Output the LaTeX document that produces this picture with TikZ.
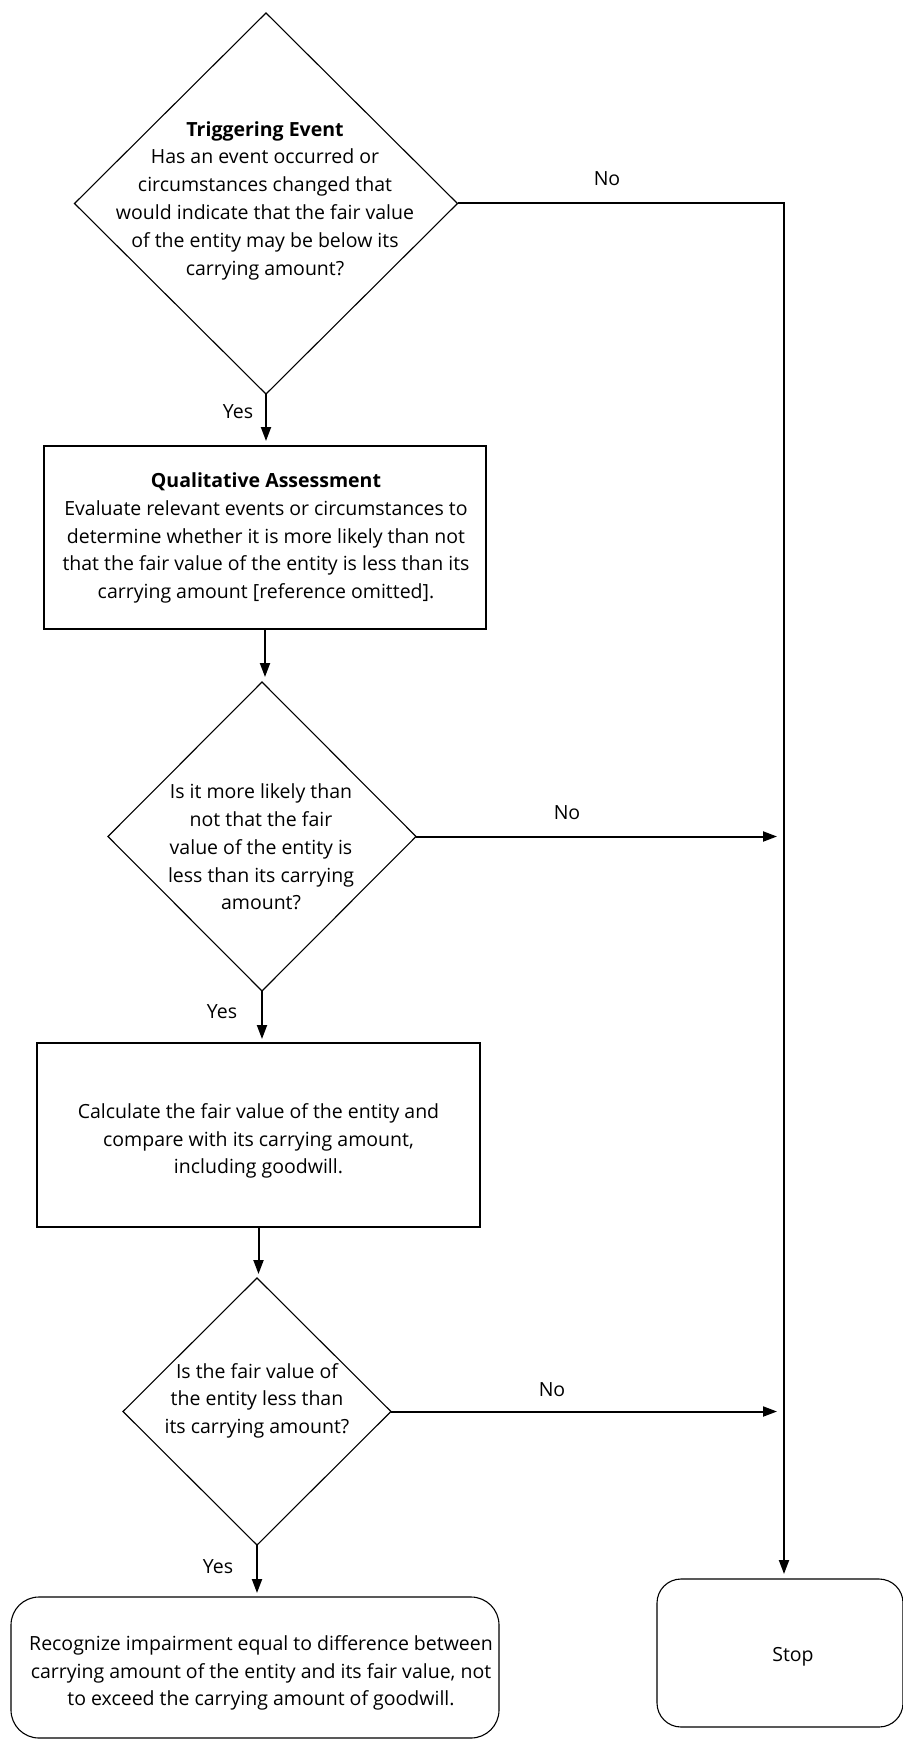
\documentclass[tikz,border=0pt]{standalone}
\usepackage{fontspec}
\setmainfont{Open Sans}
\usetikzlibrary{shapes.geometric,arrows.meta,calc}
\tikzset{
  dia/.style={draw, diamond, inner sep=0pt, outer sep=0pt, line width=1.1pt},
  boxx/.style={draw, rectangle, inner sep=0pt, outer sep=0pt, line width=1.1pt},
  rbox/.style={draw, rectangle, rounded corners=28pt, inner sep=0pt, outer sep=0pt, line width=1.1pt},
  txt/.style={align=center, inner sep=0pt, font=\fontsize{19.5}{27.8}\selectfont},
  lbl/.style={inner sep=0pt, font=\fontsize{19.5}{24}\selectfont},
  arr/.style={-{Triangle[width=10pt,length=14pt]}, line width=2pt}
}
\begin{document}
\begin{tikzpicture}[x=1pt,y=-1pt]
\useasboundingbox (0,0) rectangle (902,1739);
% shapes
\node[dia, minimum width=383pt, minimum height=381pt] (d1) at (266,203.5) {};
\node[boxx, minimum width=442pt, minimum height=183pt] (b1) at (265,537.5) {};
\node[dia, minimum width=308pt, minimum height=309pt] (d2) at (262,836.5) {};
\node[boxx, minimum width=443pt, minimum height=184pt] (b2) at (258.5,1135) {};
\node[dia, minimum width=268pt, minimum height=267pt] (d3) at (257,1411.5) {};
\node[rbox, minimum width=488pt, minimum height=141pt] (fin) at (255,1667.5) {};
\node[rbox, rounded corners=24pt, minimum width=246pt, minimum height=148pt] (stop) at (780,1653) {};
% texts
\node[txt] (t1) at (265,200.5) {\textbf{Triggering Event}\\Has an event occurred or\\circumstances changed that\\would indicate that the fair value\\of the entity may be below its\\carrying amount?};
\node[txt] (t2) at (266,538) {\textbf{Qualitative Assessment}\\Evaluate relevant events or circumstances to\\determine whether it is more likely than not\\that the fair value of the entity is less than its\\carrying amount [reference omitted].};
\node[txt] (t3) at (261,847) {Is it more likely than\\not that the fair\\value of the entity is\\less than its carrying\\amount?};
\node[txt] (t4) at (258.5,1141) {Calculate the fair value of the entity and\\compare with its carrying amount,\\including goodwill.};
\node[txt] (t5) at (257,1400.7) {Is the fair value of\\the entity less than\\its carrying amount?};
\node[txt] (t6) at (261,1673) {Recognize impairment equal to difference between\\carrying amount of the entity and its fair value, not\\to exceed the carrying amount of goodwill.};
\node[txt] (t7) at (793,1657) {Stop};
% connectors
\coordinate (vl) at (784,202);
\draw[arr, shorten >=5pt] (d1.south) -- (d1.south |- b1.north);
\draw[arr, shorten >=5pt] (b1.south) -- (b1.south |- d2.north);
\draw[arr, shorten >=4pt] (d2.south) -- (d2.south |- b2.north);
\draw[arr, shorten >=4pt] (b2.south) -- (b2.south |- d3.north);
\draw[arr, shorten >=4pt] (d3.south) -- (d3.south |- fin.north);
\draw[arr, shorten >=5pt] (d1.east) -- (d1.east -| vl) -- (vl |- stop.north);
\draw[arr, shorten >=7pt] (d2.east) -- (d2.east -| vl);
\draw[arr, shorten >=7pt] (d3.east) -- (d3.east -| vl);
% labels
\node[lbl] (y1) at (238,412) {Yes};
\node[lbl] (n1) at (607,179) {No};
\node[lbl] (n2) at (567,813) {No};
\node[lbl] (y2) at (222,1012) {Yes};
\node[lbl] (n3) at (552,1390) {No};
\node[lbl] (y3) at (218,1567) {Yes};
\end{tikzpicture}
\end{document}
